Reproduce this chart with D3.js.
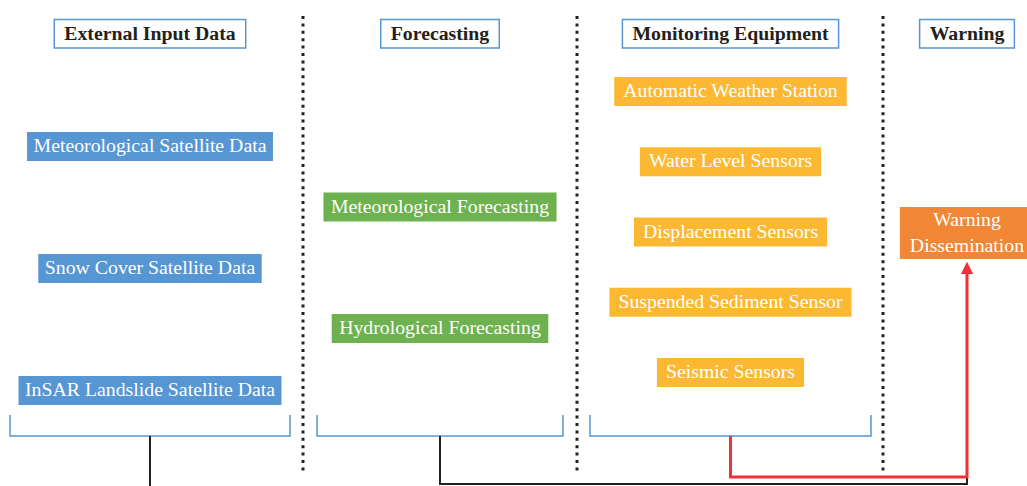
<!DOCTYPE html>
<html>
<head>
<meta charset="utf-8">
<script src="https://cdn.jsdelivr.net/npm/d3@7"></script>
<style>
  body { margin: 0; background: #fff; }
  svg { display: block; font-family: "Liberation Serif", "Times New Roman", serif; }
</style>
</head>
<body>
<div id="chart"></div>
<script>
// column headers and the boxes under each one
var columns = ["External Input Data", "Forecasting", "Monitoring Equipment", "Warning"];
var inputData = ["Meteorological Satellite Data", "Snow Cover Satellite Data", "InSAR Landslide Satellite Data"];
var forecasting = ["Meteorological Forecasting", "Hydrological Forecasting"];
var monitoring = ["Automatic Weather Station", "Water Level Sensors", "Displacement Sensors",
                  "Suspended Sediment Sensor", "Seismic Sensors"];
var warning = ["Warning|Dissemination"];

var width = 1027, height = 486;
var fs = 19.8;

var svg = d3.select("#chart")
  .append("svg")
  .attr("width", width)
  .attr("height", height);

// x position of each column center
var x = d3.scaleOrdinal()
  .domain(columns)
  .range([150, 440, 730.5, 967]);

// vertical placement of boxes in each column
var yInput = d3.scaleLinear().domain([0, inputData.length - 1]).range([146.5, 390.5]);
var yFore = d3.scaleLinear().domain([0, forecasting.length - 1]).range([207, 328.5]);
var yMon = d3.scaleLinear().domain([0, monitoring.length - 1]).range([91.5, 372.5]);

var blue = "#5696d2", green = "#6db24f", gold = "#fcb833", orange = "#f18634", red = "#ee3236";

// dotted separators
[303, 577, 883].forEach(function (sx) {
  svg.append("line")
    .attr("x1", sx).attr("x2", sx)
    .attr("y1", 16).attr("y2", 471)
    .attr("stroke", "#222")
    .attr("stroke-width", 3)
    .attr("stroke-dasharray", "3,4.4");
});

// header boxes
var headers = svg.selectAll(".header")
  .data(columns)
  .enter().append("g")
  .attr("class", "header");

headers.append("text")
  .attr("x", function (d) { return x(d); })
  .attr("y", 39.5)
  .attr("text-anchor", "middle")
  .attr("font-size", fs)
  .attr("font-weight", "bold")
  .attr("fill", "#231f20")
  .text(function (d) { return d; });

headers.each(function () {
  var g = d3.select(this);
  var w = g.select("text").node().getComputedTextLength();
  var cx = +g.select("text").attr("x");
  g.insert("rect", "text")
    .attr("x", cx - w / 2 - 10)
    .attr("y", 19.5)
    .attr("width", w + 20)
    .attr("height", 28.5)
    .attr("fill", "#fff")
    .attr("stroke", blue)
    .attr("stroke-width", 1.5);
});

function drawBoxes(labels, col, yScale, color, h, pad) {
  var g = svg.selectAll(null)
    .data(labels)
    .enter().append("g");

  g.each(function (d, i) {
    var node = d3.select(this);
    var lines = d.split("|");
    var cy = yScale(i);
    var t = node.append("text")
      .attr("text-anchor", "middle")
      .attr("font-size", fs)
      .attr("fill", "#fff");
    lines.forEach(function (ln, k) {
      t.append("tspan")
        .attr("x", x(col))
        .attr("y", cy + 5.5 + (k - (lines.length - 1) / 2) * 26)
        .text(ln);
    });
    var w = d3.max(t.selectAll("tspan").nodes(), function (n) { return n.getComputedTextLength(); });
    node.insert("rect", "text")
      .attr("x", x(col) - w / 2 - pad)
      .attr("y", cy - h / 2)
      .attr("width", w + pad * 2)
      .attr("height", h)
      .attr("fill", color);
  });
}

drawBoxes(inputData, columns[0], yInput, blue, 29, 6.5);
drawBoxes(forecasting, columns[1], yFore, green, 29, 7.5);
drawBoxes(monitoring, columns[2], yMon, gold, 29, 9);
drawBoxes(warning, columns[3], function () { return 233; }, orange, 52, 10);

// brackets under the first three columns
var brackets = [[10, 290], [317, 563], [590, 871]];
brackets.forEach(function (b) {
  svg.append("path")
    .attr("d", "M" + b[0] + ",415V436H" + b[1] + "V415")
    .attr("fill", "none")
    .attr("stroke", blue)
    .attr("stroke-width", 1.5);
});

// black connectors
var lineGen = d3.line();
svg.append("path")
  .attr("d", lineGen([[x(columns[0]), 436], [x(columns[0]), 490]]))
  .attr("fill", "none").attr("stroke", "#231f20").attr("stroke-width", 2);
svg.append("path")
  .attr("d", lineGen([[x(columns[1]), 436], [x(columns[1]), 484], [967, 484], [967, 476]]))
  .attr("fill", "none").attr("stroke", "#231f20").attr("stroke-width", 2);

// red path to warning with arrow
svg.append("defs").append("marker")
  .attr("id", "arrow")
  .attr("viewBox", "0 0 10 10")
  .attr("refX", 5).attr("refY", 5)
  .attr("markerWidth", 4.2).attr("markerHeight", 4.2)
  .attr("orient", "auto")
  .append("path")
  .attr("d", "M0,0L10,5L0,10Z")
  .attr("fill", red);

svg.append("path")
  .attr("d", lineGen([[x(columns[2]), 436], [x(columns[2]), 477], [967, 477], [967, 268]]))
  .attr("fill", "none")
  .attr("stroke", red)
  .attr("stroke-width", 3)
  .attr("marker-end", "url(#arrow)");
</script>
</body>
</html>
